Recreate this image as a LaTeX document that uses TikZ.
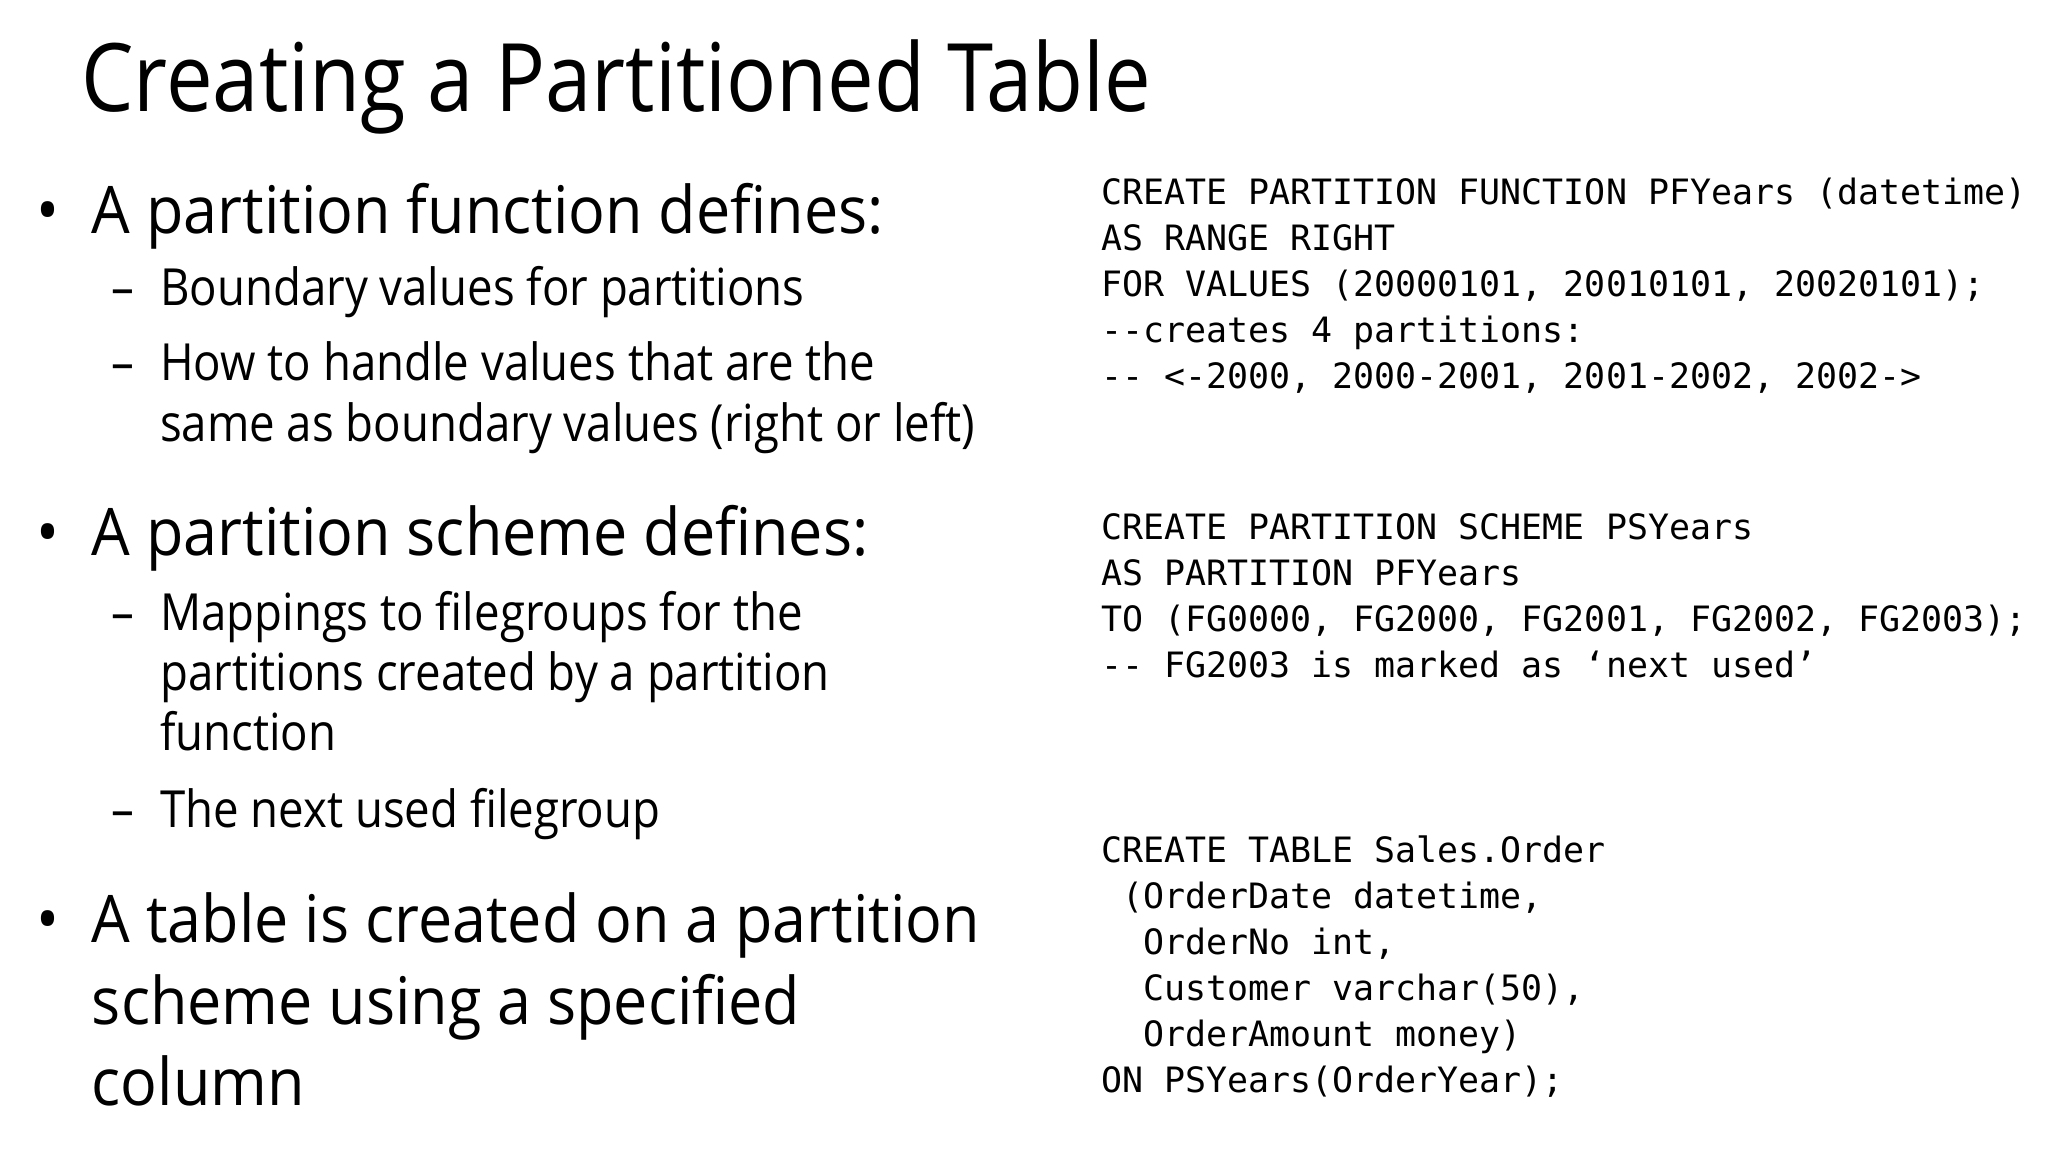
\documentclass[tikz,border=0pt]{standalone}
\usepackage{fontspec}
\setmainfont{Open Sans}
\newfontfamily\codefont{DejaVu Sans Mono}
\begin{document}
\begin{tikzpicture}[x=0.5pt,y=-0.5pt,
  every node/.style={anchor=base west,inner sep=0pt,outer sep=0pt},
  ttl/.style={font=\fontsize{36}{44}\selectfont\addfontfeatures{FakeStretch=0.88}},
  lvlone/.style={font=\fontsize{25}{31}\selectfont\addfontfeatures{FakeStretch=0.93}},
  lvltwo/.style={font=\fontsize{19.5}{23}\selectfont\addfontfeatures{FakeStretch=0.89}},
  code/.style={font=\codefont\fontsize{13.3}{17.5}\selectfont}]
\useasboundingbox (0,0) rectangle (1560,878);
\node[ttl] (title) at (62,85) {Creating a Partitioned Table};
% bullets
\node[lvlone] (b1d) at (28,178) {•};
\node[lvlone] (b1) at (70,178) {A partition function defines:};
\node[lvltwo] (s1d) at (85,233) {–};
\node[lvltwo] (s1) at (122,233) {Boundary values for partitions};
\node[lvltwo] (s2d) at (85,290) {–};
\node[lvltwo] (s2) at (122,290) {How to handle values that are the};
\node[lvltwo] (s2b) at (122,336) {same as boundary values (right or left)};
\node[lvlone] (b2d) at (28,423) {•};
\node[lvlone] (b2) at (70,423) {A partition scheme defines:};
\node[lvltwo] (s3d) at (85,480) {–};
\node[lvltwo] (s3) at (122,480) {Mappings to filegroups for the};
\node[lvltwo] (s3b) at (122,526) {partitions created by a partition};
\node[lvltwo] (s3c) at (122,572) {function};
\node[lvltwo] (s4d) at (85,630) {–};
\node[lvltwo] (s4) at (122,630) {The next used filegroup};
\node[lvlone] (b3d) at (28,718) {•};
\node[lvlone] (b3) at (70,718) {A table is created on a partition};
\node[lvlone] (b3b) at (70,780) {scheme using a specified};
\node[lvlone] (b3c) at (70,842) {column};
% code
\node[code] (c1) at (839,156) {CREATE PARTITION FUNCTION PFYears (datetime)};
\node[code] (c2) at (839,191) {AS RANGE RIGHT};
\node[code] (c3) at (839,226) {FOR VALUES (20000101, 20010101, 20020101);};
\node[code] (c4) at (839,261) {-{}-creates 4 partitions:};
\node[code] (c5) at (839,296) {-{}- <-2000, 2000-2001, 2001-2002, 2002->};
\node[code] (d1) at (839,411) {CREATE PARTITION SCHEME PSYears};
\node[code] (d2) at (839,446) {AS PARTITION PFYears};
\node[code] (d3) at (839,481) {TO (FG0000, FG2000, FG2001, FG2002, FG2003);};
\node[code] (d4) at (839,516) {-{}- FG2003 is marked as ‘next used’};
\node[code] (e1) at (839,657) {CREATE TABLE Sales.Order};
\node[code] (e2) at (855,692) {(OrderDate datetime,};
\node[code] (e3) at (871,727) {OrderNo int,};
\node[code] (e4) at (871,762) {Customer varchar(50),};
\node[code] (e5) at (871,797) {OrderAmount money)};
\node[code] (e6) at (839,832) {ON PSYears(OrderYear);};
\end{tikzpicture}
\end{document}
